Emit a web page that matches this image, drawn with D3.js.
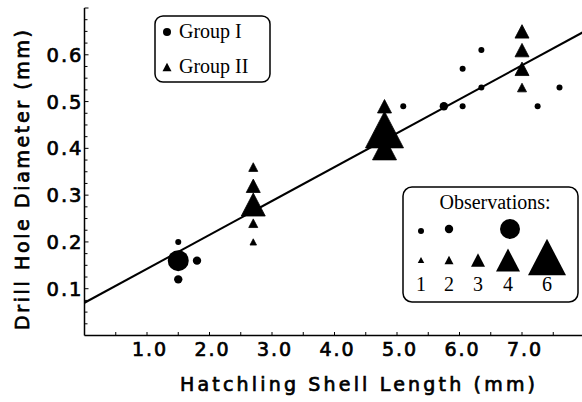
<!DOCTYPE html>
<html>
<head>
<meta charset="utf-8">
<script src="https://cdn.jsdelivr.net/npm/d3@7/dist/d3.min.js"></script>
<style>
  body { margin: 0; background: #fff; }
  svg { display: block; }
  .ax { font-family: "DejaVu Sans", sans-serif; fill: #000; stroke: #000; stroke-width: 0.7px; }
  .lg { font-family: "Liberation Serif", serif; fill: #000; }
</style>
</head>
<body>
<div id="chart"></div>
<script>
// Group I (circles)
var g1X = [1.5, 1.5, 1.5, 1.8, 5.1, 5.75, 6.05, 6.05, 6.35, 6.35, 7.25, 7.6],
    g1Y = [0.16, 0.20, 0.12, 0.16, 0.49, 0.49, 0.57, 0.49, 0.61, 0.53, 0.49, 0.53],
    g1N = [4, 1, 2, 2, 1, 2, 1, 1, 1, 1, 1, 1];
// Group II (triangles)
var g2X = [2.7, 2.7, 2.7, 2.7, 2.7, 4.8, 4.8, 4.8, 7.0, 7.0, 7.0, 7.0],
    g2Y = [0.36, 0.32, 0.28, 0.24, 0.20, 0.49, 0.44, 0.40, 0.65, 0.61, 0.57, 0.53],
    g2N = [2, 3, 4, 2, 1, 3, 6, 4, 3, 3, 3, 2];
// regression line end points
var fitX = [0, 8],
    fitY = [0.07, 0.07 + 0.0725 * 8];
var xTickLabels = ["1.0", "2.0", "3.0", "4.0", "5.0", "6.0", "7.0"],
    yTickLabels = ["0.1", "0.2", "0.3", "0.4", "0.5", "0.6"];
var legendCircleN = [1, 2, 4],
    legendTriN = [1, 2, 3, 4, 6];

var W = 582, H = 402,
    circR = {1: 3, 2: 4.2, 4: 10.5},
    triW = {1: 6.5, 2: 9, 3: 14, 4: 24, 6: 38};

var x = d3.scaleLinear().domain([0, 8]).range([84.5, 584.5]),
    y = d3.scaleLinear().domain([0, 0.7]).range([335.5, 8]);

var svg = d3.select('#chart').append('svg')
    .attr('width', W)
    .attr('height', H);

function triPath(w) {
    var h = w * 0.96;
    return 'M0,' + (-h / 2) + 'L' + (w / 2) + ',' + (h / 2) + 'L' + (-w / 2) + ',' + (h / 2) + 'Z';
}

// axes
svg.append('line')
    .attr('x1', x(0)).attr('x2', x(0))
    .attr('y1', y(0)).attr('y2', y(0.7))
    .attr('stroke', '#000').attr('stroke-width', 1.5);
svg.append('line')
    .attr('x1', x(0)).attr('x2', W)
    .attr('y1', y(0)).attr('y2', y(0))
    .attr('stroke', '#000').attr('stroke-width', 1.5);

svg.selectAll('.ytick')
    .data(d3.range(1, 29).map(function(i) { return i * 0.025; }))
    .enter().append('line')
    .attr('x1', x(0))
    .attr('x2', function(d, i) { return (i + 1) % 4 === 0 ? x(0) + 4 : x(0) + 3; })
    .attr('y1', function(d) { return y(d); })
    .attr('y2', function(d) { return y(d); })
    .attr('stroke', '#000').attr('stroke-width', 1);

svg.selectAll('.xtick')
    .data(d3.range(1, 16).map(function(i) { return i * 0.5; }))
    .enter().append('line')
    .attr('x1', function(d) { return x(d); })
    .attr('x2', function(d) { return x(d); })
    .attr('y1', y(0))
    .attr('y2', y(0) - 3.5)
    .attr('stroke', '#000').attr('stroke-width', 1);

svg.selectAll('.ylab')
    .data(yTickLabels)
    .enter().append('text')
    .attr('class', 'ax')
    .attr('x', x(0) - 1)
    .attr('y', function(d) { return y(+d) + 7; })
    .attr('text-anchor', 'end')
    .attr('font-size', 19.5)
    .attr('letter-spacing', 2)
    .text(function(d) { return d; });

svg.selectAll('.xlab')
    .data(xTickLabels)
    .enter().append('text')
    .attr('class', 'ax')
    .attr('x', function(d) { return x(+d) + 3; })
    .attr('y', 356)
    .attr('text-anchor', 'middle')
    .attr('font-size', 19)
    .attr('letter-spacing', 2)
    .text(function(d) { return d; });

svg.append('text')
    .attr('class', 'ax')
    .attr('x', 180).attr('y', 391)
    .attr('font-size', 19)
    .attr('textLength', 355)
    .attr('lengthAdjust', 'spacing')
    .text('Hatchling Shell Length (mm)');

svg.append('text')
    .attr('class', 'ax')
    .attr('transform', 'translate(29,330) rotate(-90)')
    .attr('font-size', 19)
    .attr('textLength', 300)
    .attr('lengthAdjust', 'spacing')
    .text('Drill Hole Diameter (mm)');

// fitted line
svg.append('path')
    .attr('d', d3.line()
        .x(function(d) { return x(d[0]); })
        .y(function(d) { return y(d[1]); })(d3.zip(fitX, fitY)))
    .attr('stroke', '#000')
    .attr('stroke-width', 2)
    .attr('fill', 'none');

// points
svg.selectAll('.g1')
    .data(d3.range(g1X.length))
    .enter().append('circle')
    .attr('cx', function(i) { return x(g1X[i]); })
    .attr('cy', function(i) { return y(g1Y[i]); })
    .attr('r', function(i) { return circR[g1N[i]]; })
    .attr('fill', '#000');

svg.selectAll('.g2')
    .data(d3.range(g2X.length))
    .enter().append('path')
    .attr('transform', function(i) { return 'translate(' + x(g2X[i]) + ',' + y(g2Y[i]) + ')'; })
    .attr('d', function(i) { return triPath(triW[g2N[i]]); })
    .attr('fill', '#000')
    .attr('stroke', '#000')
    .attr('stroke-width', 0.8)
    .attr('stroke-linejoin', 'round');

// group legend
svg.append('rect')
    .attr('x', 155).attr('y', 16)
    .attr('width', 115).attr('height', 66)
    .attr('rx', 8)
    .attr('fill', '#fff').attr('stroke', '#000').attr('stroke-width', 1.5);
svg.append('circle').attr('cx', 167).attr('cy', 32).attr('r', 4).attr('fill', '#000');
svg.append('path')
    .attr('transform', 'translate(167,67)')
    .attr('d', triPath(9))
    .attr('fill', '#000');
svg.append('text').attr('class', 'lg').attr('x', 179).attr('y', 38)
    .attr('font-size', 20).text('Group I');
svg.append('text').attr('class', 'lg').attr('x', 179).attr('y', 73)
    .attr('font-size', 20).text('Group II');

// observations legend
var obsCircleX = [421, 449, 510],
    obsTriX = [421, 449, 478, 508, 547];
svg.append('rect')
    .attr('x', 403).attr('y', 187)
    .attr('width', 175).attr('height', 115)
    .attr('rx', 9)
    .attr('fill', '#fff').attr('stroke', '#000').attr('stroke-width', 1.5);
svg.append('text').attr('class', 'lg').attr('x', 495).attr('y', 209)
    .attr('text-anchor', 'middle')
    .attr('font-size', 20).text('Observations:');
svg.selectAll('.lc')
    .data(legendCircleN)
    .enter().append('circle')
    .attr('cx', function(d, i) { return obsCircleX[i]; })
    .attr('cy', function(d) { return d === 1 ? 231 : 229; })
    .attr('r', function(d) { return circR[d] === 10.5 ? 10 : circR[d]; })
    .attr('fill', '#000');
svg.selectAll('.lt')
    .data(legendTriN)
    .enter().append('path')
    .attr('transform', function(d, i) { return 'translate(' + obsTriX[i] + ',' + (d === 6 ? 257 : 260) + ')'; })
    .attr('d', function(d) { return triPath(triW[d]); })
    .attr('fill', '#000');
svg.selectAll('.ln')
    .data(legendTriN)
    .enter().append('text')
    .attr('class', 'lg')
    .attr('x', function(d, i) { return obsTriX[i]; })
    .attr('y', 291)
    .attr('text-anchor', 'middle')
    .attr('font-size', 20)
    .text(function(d) { return d; });
</script>
</body>
</html>
